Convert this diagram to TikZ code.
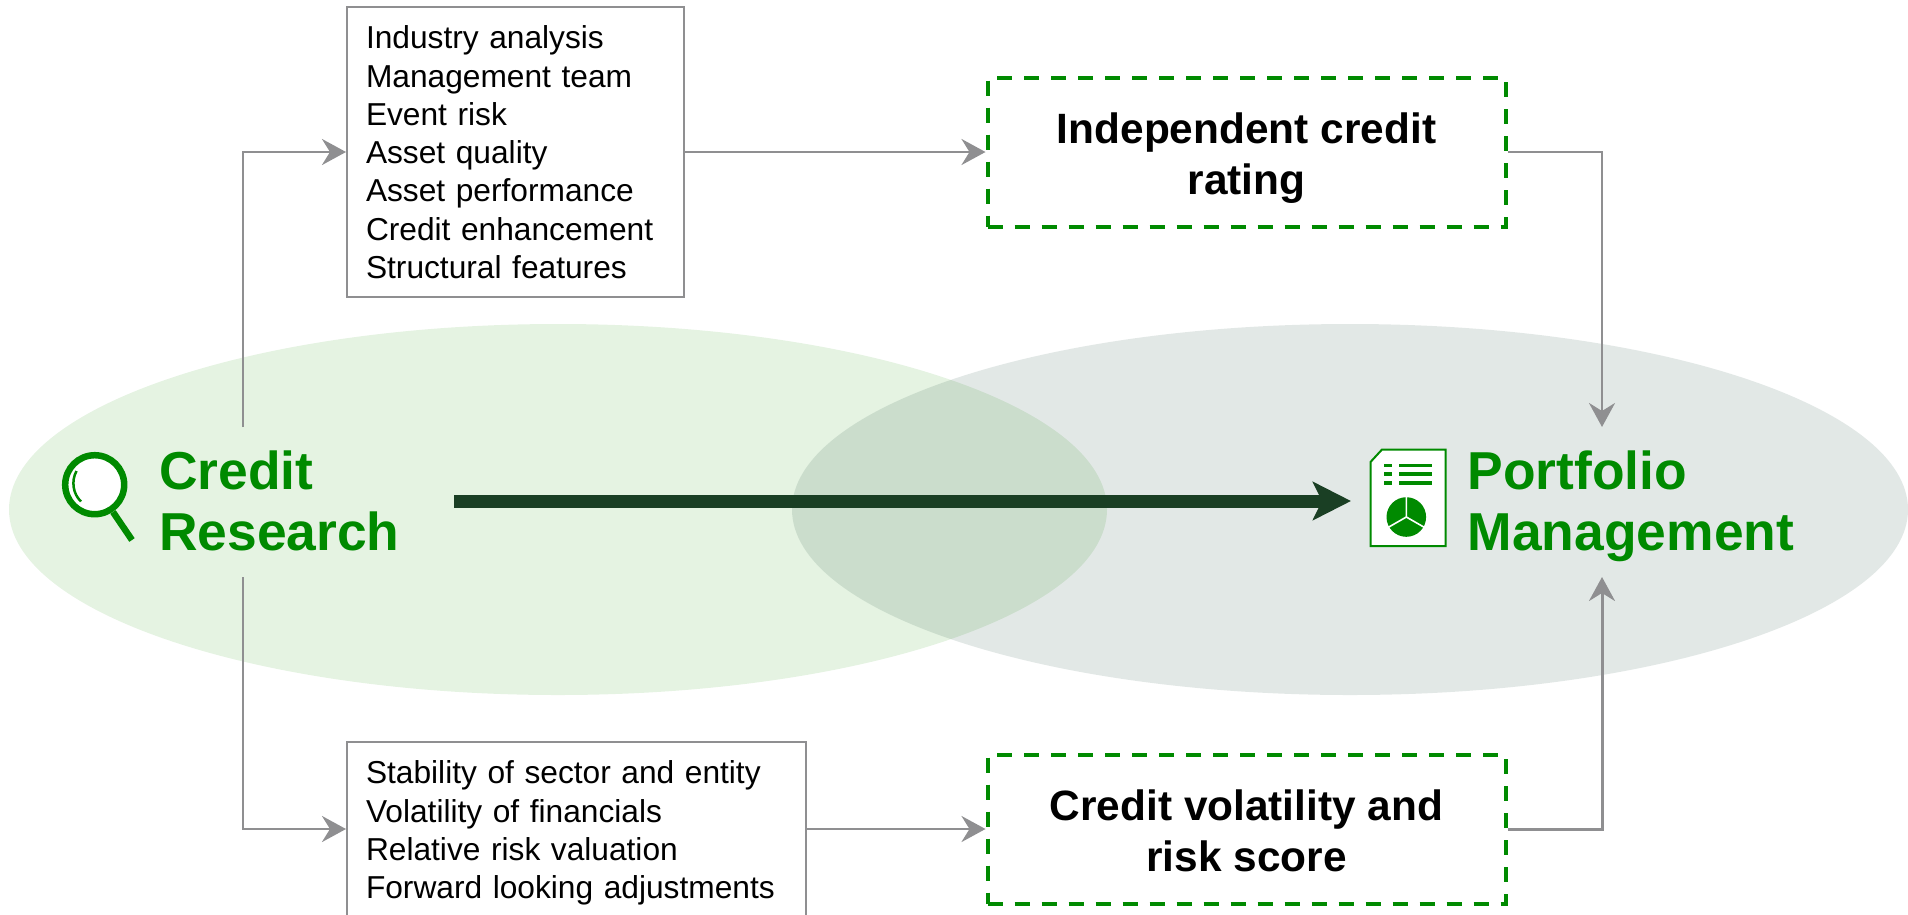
\documentclass[tikz,border=0pt]{standalone}
\usepackage{fontspec}
\setmainfont{Liberation Sans}
\usetikzlibrary{arrows.meta,shapes.geometric,positioning,calc}
\definecolor{brand}{RGB}{0,138,0}
\definecolor{darkarrow}{RGB}{26,63,36}
\definecolor{linegray}{RGB}{143,143,145}
\definecolor{leftfill}{RGB}{229,243,226}
\definecolor{rightfill}{RGB}{32,78,63}
\tikzset{
  blob/.style={ellipse,inner sep=0pt,draw=none,minimum height=371pt},
  headline/.style={inner sep=0pt,align=left,text=brand,font=\bfseries\fontsize{53.4}{61}\selectfont},
  listbox/.style={draw=linegray,line width=2pt,fill=white,inner ysep=0pt,inner xsep=19pt,text width=299pt,align=left,anchor=center,font=\fontsize{31.7}{38.3}\selectfont},
  ratingbox/.style={draw=brand,line width=4pt,dash pattern=on 15pt off 12pt,fill=white,inner sep=0pt,minimum width=518pt,minimum height=149pt,align=center,font=\bfseries\fontsize{42.4}{51}\selectfont},
  link/.style={draw=linegray,line width=2.8pt,-{Stealth[length=24pt,width=26pt,inset=8pt]}},
  mainlink/.style={draw=darkarrow,line width=13pt,-{Stealth[length=38pt,width=38pt,inset=9pt]}},
  icon/.style={draw=brand,fill=white}
}
\begin{document}
\begin{tikzpicture}[x=1pt,y=-1pt]
\useasboundingbox (0,0) rectangle (1908,914);
\node[blob,fill=leftfill,minimum width=1098pt] (researchblob) at (558,509.5) {};
\node[blob,fill=rightfill,fill opacity=.13,minimum width=1116pt] (portfolioblob) at (1350,509.5) {};
% boxes
\node[listbox,minimum height=290pt] (factors) at (515.5,152) {\rule{0pt}{23.5pt}Industry analysis\\Management team\\Event risk\\Asset quality\\Asset performance\\Credit enhancement\\Structural features};
\node[listbox,minimum height=174pt] (scores) at (576.5,829) [text width=421pt] {\rule{0pt}{31pt}Stability of sector and entity\\Volatility of financials\\Relative risk valuation\\Forward looking adjustments};
\node[ratingbox] (rating) at (1246.5,152) {\rule{0pt}{44.4pt}Independent credit\\rating\rule[-9.5pt]{0pt}{1pt}};
\node[ratingbox] (volatility) at (1246.5,829) {\rule{0pt}{44.4pt}Credit volatility and\\risk score\rule[-9.5pt]{0pt}{1pt}};
% titles
\node[headline,anchor=west] (research) at (159,501) {Credit\\Research};
\node[headline,anchor=west] (portfolio) at (1467.5,506) {Portfolio\\Management};
% anchors for free ends
\coordinate (researchtop) at (243,427);
\coordinate (researchbottom) at (243,577);
\coordinate (portfoliotop) at (1602,427);
\coordinate (portfoliobottom) at (1602,577);
\coordinate (mainstart) at (454,501);
\coordinate (mainend) at (1351,501);
% connectors
\draw[link] (researchtop) |- (factors.west);
\draw[link] (researchbottom) |- (scores.west);
\draw[link] (factors.east) -- (rating.west);
\draw[link] (scores.east) -- (volatility.west);
\draw[link] (rating.east) -| (portfoliotop);
\draw[link,line width=3pt] (volatility.east) -| (portfoliobottom);
\draw[mainlink] (mainstart) -- (mainend);
% magnifier
\draw[brand,line width=6.5pt,fill=white] (94.7,484.7) circle[radius=29.5pt];
\draw[brand,line width=6.5pt] (113,512) -- (132,540);
\draw[brand,line width=2.5pt] (76.5,471) .. controls (71,481) and (73,494) .. (81,501.5);
% report icon
\draw[icon,line width=2pt] (1382,449.5) -- (1445.5,449.5) -- (1445.5,546) -- (1370.5,546) -- (1370.5,462) -- cycle;
\fill[brand] (1383.5,463.5) rectangle (1392,467);
\fill[brand] (1383.5,472) rectangle (1392,476);
\fill[brand] (1383.5,481) rectangle (1392,484.5);
\fill[brand] (1398.5,463.5) rectangle (1432,467);
\fill[brand] (1398.5,472) rectangle (1432,476);
\fill[brand] (1398.5,481) rectangle (1432,484.5);
\fill[brand] (1406.3,517) circle[radius=19.8pt];
\draw[white,line width=1.6pt] (1406.3,496) -- (1406.3,517) -- (1388,527.5);
\draw[white,line width=1.6pt] (1406.3,517) -- (1424.6,527.5);
\end{tikzpicture}
\end{document}
